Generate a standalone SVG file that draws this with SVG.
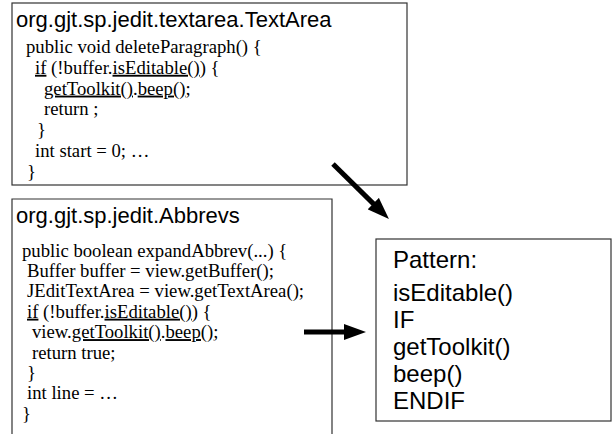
<svg xmlns="http://www.w3.org/2000/svg" width="613" height="434" viewBox="0 0 613 434">
<style>
.box{fill:#fff;stroke:#333;stroke-width:1.2}
.title{font-family:"Liberation Sans",Arial,sans-serif;font-size:22px;fill:#000}
.pat{font-family:"Liberation Sans",Arial,sans-serif;font-size:24px;fill:#000}
.code{font-family:"Liberation Serif","Times New Roman",serif;font-size:18.7px;fill:#000}
.u{text-decoration:underline}
.arrow{stroke:#000;stroke-width:5;fill:none}
</style>
<defs>
<marker id="head" viewBox="0 0 22 16" refX="10" refY="8" markerWidth="22" markerHeight="16" markerUnits="userSpaceOnUse" orient="auto">
<path d="M0,0 L22,8 L0,16 z" fill="#000"/>
</marker>
</defs>
<rect width="613" height="434" fill="#fff"/>
<g id="textarea">
<rect class="box" x="12" y="3" width="395" height="182"/>
<text class="title" x="16" y="27">org.gjt.sp.jedit.textarea.TextArea</text>
<text class="code" x="26" y="53">public void deleteParagraph() {</text>
<text class="code" x="35" y="73.8"><tspan class="u">if</tspan> (!buffer.<tspan class="u">isEditable()</tspan>) {</text>
<text class="code" x="44" y="94.6"><tspan class="u">getToolkit()</tspan>.<tspan class="u">beep()</tspan>;</text>
<text class="code" x="44" y="115.4">return ;</text>
<text class="code" x="37" y="136.2">}</text>
<text class="code" x="35" y="157">int start = 0; …</text>
<text class="code" x="27" y="177.8">}</text>
</g>
<g id="abbrevs">
<path class="box" d="M12,434 V199 H332 V434"/>
<text class="title" x="16" y="223">org.gjt.sp.jedit.Abbrevs</text>
<text class="code" x="22" y="256.5">public boolean expandAbbrev(...) {</text>
<text class="code" x="27" y="276.9">Buffer buffer = view.getBuffer();</text>
<text class="code" x="27" y="297.3">JEditTextArea = view.getTextArea();</text>
<text class="code" x="27" y="317.7"><tspan class="u">if</tspan> (!buffer.<tspan class="u">isEditable()</tspan>) {</text>
<text class="code" x="32" y="338.1">view.<tspan class="u">getToolkit()</tspan>.<tspan class="u">beep()</tspan>;</text>
<text class="code" x="32" y="358.5">return true;</text>
<text class="code" x="27" y="378.9">}</text>
<text class="code" x="27" y="399.3">int line = …</text>
<text class="code" x="22" y="419.7">}</text>
</g>
<g id="pattern">
<rect class="box" x="376" y="239" width="235" height="182"/>
<text class="pat" x="393" y="268">Pattern:</text>
<text class="pat" x="393" y="301">isEditable()</text>
<text class="pat" x="393" y="328">IF</text>
<text class="pat" x="393" y="355">getToolkit()</text>
<text class="pat" x="393" y="382">beep()</text>
<text class="pat" x="393" y="409">ENDIF</text>
</g>
<g id="connectors">
<line class="arrow" x1="333" y1="164" x2="380.4" y2="210.6" marker-end="url(#head)"/>
<line class="arrow" x1="304" y1="332" x2="354" y2="332" marker-end="url(#head)"/>
</g>
</svg>
